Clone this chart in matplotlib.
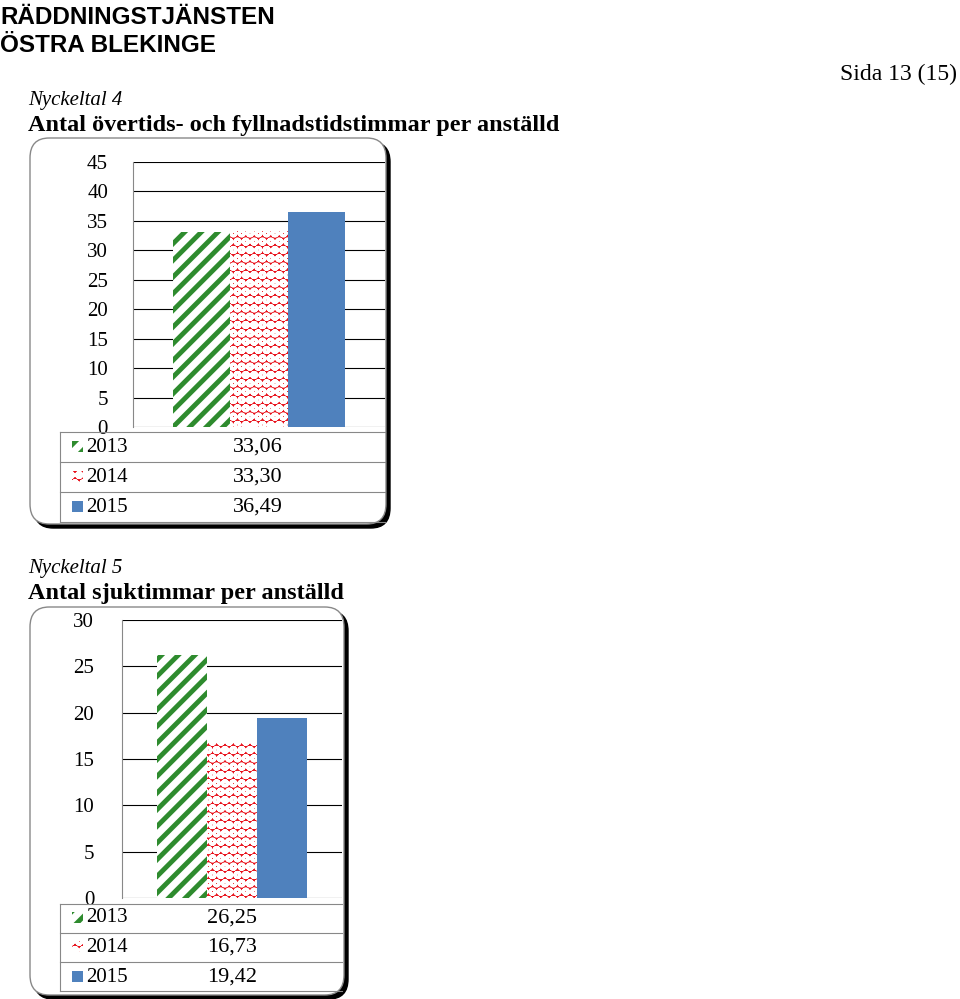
import matplotlib.pyplot as plt
from matplotlib.patches import FancyBboxPatch, Rectangle
from matplotlib.lines import Line2D

years = ['2013', '2014', '2015']
overtid = [33.06, 33.30, 36.49]
sjuk = [26.25, 16.73, 19.42]
overtid_labels = ['33,06', '33,30', '36,49']
sjuk_labels = ['26,25', '16,73', '19,42']

plt.rcParams['hatch.linewidth'] = 3.5

W, H = 960, 999
fig = plt.figure(figsize=(9.6, 9.99), dpi=100)
serif = 'Liberation Serif'

def fx(x): return x / W
def fy(y): return 1 - y / H

styles = [dict(facecolor='white', edgecolor='#2e8b2e', hatch='//'),
          dict(facecolor='#e8101a', edgecolor='white', hatch='oo'),
          dict(facecolor='#4f81bd', edgecolor='#4f81bd', hatch=None)]

def chart(box, plot, ymax, step, vals, labels, rows, valx, pad):
    x0, y0, x1, y1 = box
    shadow = FancyBboxPatch((fx(x0 + 4), fy(y1 + 4)), fx(x1 - x0), (y1 - y0) / H,
                            boxstyle='round,pad=0,rounding_size=0.02', transform=fig.transFigure,
                            facecolor='black', edgecolor='black', zorder=0)
    frame = FancyBboxPatch((fx(x0), fy(y1)), fx(x1 - x0), (y1 - y0) / H,
                           boxstyle='round,pad=0,rounding_size=0.02', transform=fig.transFigure,
                           facecolor='white', edgecolor='#888888', lw=1, zorder=1)
    fig.patches += [shadow, frame]
    px0, py0, px1, py1 = plot
    ax = fig.add_axes([fx(px0), fy(py1), fx(px1 - px0), (py1 - py0) / H], zorder=2)
    ax.patch.set_alpha(0)
    for i, v in enumerate(vals):
        s = styles[i]
        ax.bar(i, v, width=1, facecolor=s['facecolor'], edgecolor=s['edgecolor'],
               hatch=s['hatch'], lw=0)
    ax.set_xlim(-1.2, 3.2)
    ax.set_ylim(0, ymax)
    ax.set_yticks(range(0, ymax + 1, step))
    ax.yaxis.grid(True, color='black', lw=0.8)
    ax.set_axisbelow(True)
    ax.set_xticks([])
    ax.tick_params(axis='y', length=0, labelsize=15, pad=pad)
    for l in ax.get_yticklabels():
        l.set_fontfamily(serif)
    for sp in ['top', 'right', 'bottom']:
        ax.spines[sp].set_visible(False)
    ax.spines['left'].set_color('#888888')
    # table
    rh = rows[1] - rows[0]
    tx0 = 60
    lines_y = [rows[0] - rh / 2 + i * rh for i in range(4)]
    for ly in lines_y:
        fig.add_artist(Line2D([fx(tx0), fx(px1)], [fy(ly), fy(ly)], color='#888888', lw=0.8, zorder=3))
    fig.add_artist(Line2D([fx(tx0), fx(tx0)], [fy(lines_y[0]), fy(lines_y[-1])], color='#888888', lw=0.8, zorder=3))
    for i, (yr, lab) in enumerate(zip(years, labels)):
        s = styles[i]
        fig.add_artist(Rectangle((fx(tx0 + 12), fy(rows[i] + 5)), 11 / W, 11 / H,
                                 facecolor=s['facecolor'], edgecolor=s['edgecolor'],
                                 hatch=s['hatch'], lw=0, transform=fig.transFigure, zorder=5))
        fig.text(fx(tx0 + 26), fy(rows[i]), yr, fontsize=15, family=serif, va='center', zorder=5)
        fig.text(fx(valx), fy(rows[i]), lab, fontsize=16, family=serif, va='center', ha='center', zorder=5)

fig.text(fx(0), fy(17), 'RÄDDNINGSTJÄNSTEN', fontsize=17.5, weight='bold', family='Liberation Sans', va='center')
fig.text(fx(0), fy(45), 'ÖSTRA BLEKINGE', fontsize=17.5, weight='bold', family='Liberation Sans', va='center')
fig.text(fx(957), fy(74), 'Sida 13 (15)', fontsize=17, family=serif, va='center', ha='right')
fig.text(fx(28), fy(100), 'Nyckeltal 4', fontsize=15, style='italic', family=serif, va='center')
fig.text(fx(28), fy(126), 'Antal övertids- och fyllnadstidstimmar per anställd', fontsize=17.5, weight='bold', family=serif, va='center')
fig.text(fx(28), fy(568), 'Nyckeltal 5', fontsize=15, style='italic', family=serif, va='center')
fig.text(fx(28), fy(593), 'Antal sjuktimmar per anställd', fontsize=17.5, weight='bold', family=serif, va='center')

chart((30, 138, 386, 524), (133, 162, 385, 427), 45, 5, overtid, overtid_labels, [447, 477, 507], 258, 18)
chart((30, 607, 344, 995), (122, 620, 342, 898), 30, 5, sjuk, sjuk_labels, [918, 947, 977], 232, 20)

fig.savefig('out.png', dpi=100)
